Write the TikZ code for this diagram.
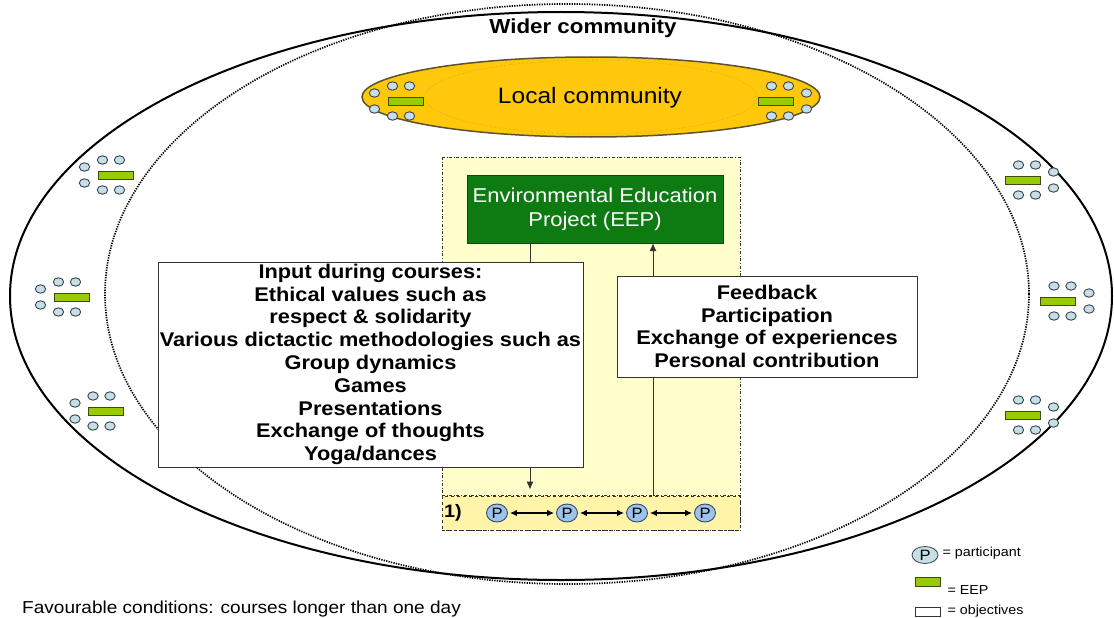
\documentclass[tikz,border=0pt]{standalone}
\usepackage{fontspec}
\setmainfont{Liberation Sans}[FakeStretch=1.1]
\usetikzlibrary{shapes.geometric,arrows.meta}
\definecolor{lcgold}{HTML}{FFC80A}
\definecolor{lcedge}{HTML}{5C5230}
\definecolor{lcinner}{HTML}{B89A3A}
\definecolor{paleyellow}{HTML}{FFFFCC}
\definecolor{rowyellow}{HTML}{FFF4A8}
\definecolor{eepgreen}{HTML}{0E7B12}
\definecolor{eepedge}{HTML}{0A4A0A}
\definecolor{tablegreen}{HTML}{99CC00}
\definecolor{tbldark}{HTML}{3D4A14}
\definecolor{seatblue}{HTML}{C6DFE6}
\definecolor{seatdark}{HTML}{3C4650}
\definecolor{pblue}{HTML}{9DC3EA}
\definecolor{pdark}{HTML}{2F4A6A}
\definecolor{boxgray}{HTML}{333333}
\tikzset{
  tbl/.style={fill=tablegreen, draw=tbldark, line width=0.9pt},
  seat/.style={fill=seatblue, draw=seatdark, line width=0.9pt},
  pics/lgroup/.style={code={
    \draw[tbl] (-17.5,-4) rectangle (17.5,4);
    \foreach \sx/\sy in {-13/-15,4/-15,-13/15,4/15,-31/-8,-31/8}
      \draw[seat] (\sx,\sy) ellipse[x radius=5.2pt, y radius=4.2pt];
  }},
  pics/rgroup/.style={code={
    \draw[tbl] (-17.5,-4) rectangle (17.5,4);
    \foreach \sx/\sy in {13/-15,-4/-15,13/15,-4/15,31/-8,31/8}
      \draw[seat] (\sx,\sy) ellipse[x radius=5.2pt, y radius=4.2pt];
  }},
  objbox/.style={draw=boxgray, fill=white, line width=0.9pt, align=center, inner sep=1pt,
    font=\bfseries\fontsize{19.8}{22.8}\selectfont},
  pnode/.style={ellipse, draw=pdark, fill=pblue, line width=0.9pt, minimum width=21pt,
    minimum height=18pt, inner sep=0pt, font=\fontsize{15}{15}\selectfont},
  dbl/.style={{Latex[length=7pt,width=6.5pt]}-{Latex[length=7pt,width=6.5pt]}, line width=1.2pt, shorten >=2pt, shorten <=2pt},
  conn/.style={line width=0.9pt, draw=boxgray},
  legtxt/.style={anchor=west, font=\fontsize{13}{15}\selectfont},
}
\begin{document}
\begin{tikzpicture}[x=1pt,y=-1pt]
\useasboundingbox (0,0) rectangle (1114,618);
\fill[white] (0,0) rectangle (1114,618);

% wider community ellipses
\draw[line width=2pt] (561,296) ellipse[x radius=551pt, y radius=284pt];
\draw[line width=1.7pt, dash pattern=on 1.3pt off 1.2pt] (567,294) ellipse[x radius=462pt, y radius=290pt];

% local community
\draw[fill=lcgold, draw=lcedge, line width=1.5pt] (591,97) ellipse[x radius=229pt, y radius=40pt];
\draw[draw=lcinner, dotted, line width=0.6pt] (591,97) ellipse[x radius=166pt, y radius=37pt];
\node[font=\fontsize{22.3}{26}\selectfont] (lc) at (590,98) {Local community};
\pic at (405.5,101) {lgroup};
\pic at (775.5,101) {rgroup};

% side groups
\pic at (115.5,175) {lgroup};
\pic at (71.5,297) {lgroup};
\pic at (106,411) {lgroup};
\pic at (1022.5,180) {rgroup};
\pic at (1058,301) {rgroup};
\pic at (1022.5,415) {rgroup};

% project area
\draw[fill=paleyellow, draw=boxgray, dash dot, line width=0.9pt] (442,157) rectangle (740,530);
\node[draw=boxgray, fill=rowyellow, dashed, line width=0.9pt, minimum width=298pt, minimum height=34pt, inner sep=0pt] (row) at (591,513) {};
\draw[draw=boxgray, dash dot, line width=0.9pt] (row.north west) -- (row.north east);
\node[font=\bfseries\fontsize{18}{18}\selectfont] (one) at (453,513) {1)};

\node[draw=eepedge, fill=eepgreen, text=white, minimum width=256pt, minimum height=68pt, align=center,
  font=\fontsize{20}{24}\selectfont] (eep) at (595,209) {Environmental Education\\Project (EEP)};

\coordinate (dnx) at (530,0);
\coordinate (upx) at (653,0);
\draw[conn, -{Latex[length=8pt,width=7pt]}, shorten >=6pt] (eep.south -| dnx) -- (row.north -| dnx);
\draw[conn, -{Latex[length=8pt,width=7pt]}] (row.north -| upx) -- (eep.south -| upx);

\node[objbox, minimum width=425pt, minimum height=205pt] (inp) at (370.5,364.5)
  {Input during courses:\\Ethical values such as\\respect \& solidarity\\Various dictactic methodologies such as\\Group dynamics\\Games\\Presentations\\Exchange of thoughts\\Yoga/dances};
\node[objbox, minimum width=300pt, minimum height=101pt] (fb) at (767,326.5)
  {Feedback\\Participation\\Exchange of experiences\\Personal contribution};

% participants
\node[pnode] (p1) at (497,513) {P};
\node[pnode] (p2) at (567,513) {P};
\node[pnode] (p3) at (637,513) {P};
\node[pnode] (p4) at (705,513) {P};
\draw[dbl] (p1) -- (p2);
\draw[dbl] (p2) -- (p3);
\draw[dbl] (p3) -- (p4);

% title
\node[font=\bfseries\fontsize{20.3}{24}\selectfont, anchor=base] (wc) at (583,34) {Wider community};

% legend
\node[ellipse, draw=seatdark, fill=seatblue, line width=0.8pt, minimum width=26pt, minimum height=17pt,
  inner sep=0pt, font=\fontsize{15}{15}\selectfont] (lp) at (925,555) {P};
\node[legtxt] (lpt) at (939,553) {= participant};
\draw[tbl] (915,577) rectangle (940,586);
\node[legtxt] (let) at (944,590) {= EEP};
\draw[draw=boxgray, fill=white, line width=0.8pt] (915,607) rectangle (940,616);
\node[legtxt] (lot) at (944,611) {= objectives};

% bottom note
\node[anchor=base west, font=\fontsize{17.3}{20}\selectfont, inner sep=0pt] (fav) at (22,613)
  {Favourable conditions: courses longer than one day};
\end{tikzpicture}
\end{document}
